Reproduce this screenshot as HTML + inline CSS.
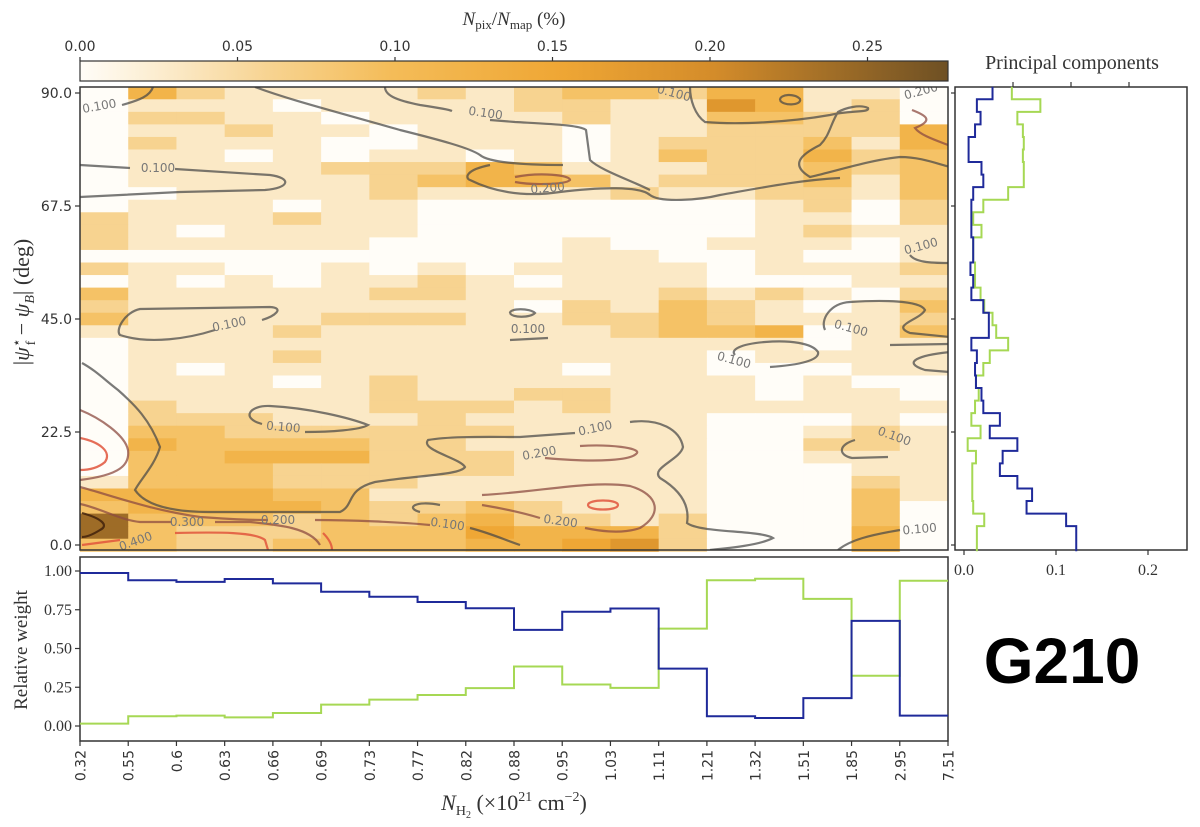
<!DOCTYPE html>
<html><head><meta charset="utf-8"><style>
html,body{margin:0;padding:0;background:#fff;}
svg{display:block;}
.tk{font-family:"DejaVu Sans","Liberation Sans",sans-serif;font-size:14px;fill:#333;}
.sf{font-family:"Liberation Serif",serif;fill:#333;}
.cl{font-family:"DejaVu Sans","Liberation Sans",sans-serif;font-size:12px;fill:#777;}
</style></head><body>
<svg id="chart" width="1200" height="827" viewBox="0 0 1200 827" xmlns="http://www.w3.org/2000/svg">
<defs>
<linearGradient id="cbar" x1="0" x2="1" y1="0" y2="0">
<stop offset="0" stop-color="#fffdf8"/><stop offset="0.11" stop-color="#fbe9c6"/><stop offset="0.22" stop-color="#f7d390"/><stop offset="0.36" stop-color="#f4bc58"/><stop offset="0.55" stop-color="#efa735"/><stop offset="0.73" stop-color="#d48c2a"/><stop offset="1" stop-color="#6e5024"/>
</linearGradient>
<clipPath id="mainclip"><rect x="80" y="87" width="868" height="463"/></clipPath>
</defs>
<g id="heat"></g>
<g id="contours" clip-path="url(#mainclip)"></g>
<rect x="80" y="87" width="868" height="463" fill="none" stroke="#333" stroke-width="1.5"/>
<g id="maintext"></g>
<rect x="80" y="61" width="868" height="20" fill="url(#cbar)" stroke="#333" stroke-width="1.2"/>
<g id="cbticks"></g>
<text x="514" y="25" text-anchor="middle" class="sf" font-size="19"><tspan font-style="italic">N</tspan><tspan font-size="13" dy="4">pix</tspan><tspan dy="-4">/</tspan><tspan font-style="italic">N</tspan><tspan font-size="13" dy="4">map</tspan><tspan dy="-4"> (%)</tspan></text>
<text x="1072" y="69" text-anchor="middle" class="sf" font-size="20">Principal components</text>
<rect x="955" y="87" width="232" height="463" fill="none" stroke="#333" stroke-width="1.5"/>
<g id="pc"></g>
<rect x="80" y="557" width="868" height="184" fill="none" stroke="#333" stroke-width="1.5"/>
<g id="wt"></g>
<text x="0" y="0" transform="translate(29,302) rotate(-90)" text-anchor="middle" class="sf" font-size="22">|<tspan font-style="italic">ψ</tspan><tspan font-size="14" dy="-8">⋆</tspan><tspan font-size="14" dx="-7" dy="14">f</tspan><tspan dy="-6"> − </tspan><tspan font-style="italic">ψ</tspan><tspan font-size="14" font-style="italic" dy="5">B</tspan><tspan dy="-5">| (deg)</tspan></text>
<text x="0" y="0" transform="translate(27,650) rotate(-90)" text-anchor="middle" class="sf" font-size="19">Relative weight</text>
<text x="514" y="810" text-anchor="middle" class="sf" font-size="22"><tspan font-style="italic">N</tspan><tspan font-size="14" dy="5">H</tspan><tspan font-size="10" dy="3">2</tspan><tspan dy="-8"> (×10</tspan><tspan font-size="14" dy="-9">21</tspan><tspan dy="9"> cm</tspan><tspan font-size="14" dy="-9">−2</tspan><tspan dy="9">)</tspan></text>
<text x="1062" y="683" text-anchor="middle" font-family="Liberation Sans, sans-serif" font-weight="bold" font-size="64" fill="#000">G210</text>
</svg>
<script>
// ---- data ----
const nEdges = ["0.32","0.55","0.6","0.63","0.66","0.69","0.73","0.77","0.82","0.88","0.95","1.03","1.11","1.21","1.32","1.51","1.85","2.95","7.51"];
const angleTicks = [0, 22.5, 45, 67.5, 90];
const cbTicks = [0, 0.05, 0.10, 0.15, 0.20, 0.25];
const levelStep = 0.030;
// heatmap rows from top (90 deg) to bottom (0 deg), 18 columns each, value = digit*levelStep
const heatRows = [
"042111121233244110","011101111221164120","022110111121133220","011211011101122224",
"021110011101222314","011010110101322423","011112224311122323","011111234431222313",
"001111211112112213","011101100000001202","211121100000001102","210111100000001211",
"211111000010011101","000000000011001001","211001010111101112","010101121011100011",
"311111221111212102","211111111021321013","311112221122321112","111121111112334013",
"011111111111111011","011121111111101111","010111111101100011","011101211111110100",
"011111211221110110","021111222121111111","022211121111100010","033222222111100121",
"043333221111100221","033444222111100111","033322222111100011","133322211111100021",
"444433111111100031","344443223211100030","833323234221200030","832223335444200040",
"332233334456200040"];
// principal components, top (90 deg) to bottom (0 deg)
const pcBlue = [0.031,0.014,0.018,0.012,0.005,0.005,0.019,0.021,0.010,0.008,0.008,0.008,0.010,0.010,0.007,0.010,0.008,0.021,0.027,0.027,0.008,0.014,0.012,0.013,0.019,0.021,0.039,0.028,0.058,0.042,0.039,0.058,0.074,0.068,0.111,0.122,0.122];
const pcGreen = [0.052,0.083,0.058,0.064,0.065,0.064,0.065,0.065,0.048,0.021,0.010,0.019,0.010,0.010,0.012,0.012,0.018,0.022,0.031,0.035,0.048,0.028,0.021,0.013,0.016,0.012,0.008,0.018,0.004,0.013,0.009,0.009,0.009,0.010,0.022,0.014,0.014];
const pcTicks = [0, 0.1, 0.2];
// relative weights per column-density bin
const wBlue = [0.987,0.94,0.93,0.948,0.92,0.866,0.834,0.80,0.76,0.62,0.737,0.758,0.37,0.063,0.052,0.18,0.678,0.067];
const wGreen = [0.015,0.063,0.067,0.056,0.084,0.138,0.17,0.20,0.244,0.384,0.268,0.246,0.628,0.94,0.95,0.82,0.324,0.937];
const wTicks = [0, 0.25, 0.5, 0.75, 1.0];

// ---- scales ----
const NS='http://www.w3.org/2000/svg';
const X0=80, X1=948, nb=nEdges.length-1, bw=(X1-X0)/nb;
const xb = i => X0 + i*bw;
const yAng = a => 545 - a*(452/90);
const rowH = 452/90*2.5;
const xPc = v => 964 + v*920;
const yW = v => 726 - v*155;
const xCb = v => 80 + v*3150;
function el(tag, attrs, parent){const e=document.createElementNS(NS,tag);for(const k in attrs)e.setAttribute(k,attrs[k]);parent.appendChild(e);return e;}
const stops=[[0,[255,253,248]],[0.03,[251,233,198]],[0.06,[247,211,144]],[0.10,[244,188,88]],[0.15,[239,167,53]],[0.20,[212,140,42]],[0.275,[110,80,36]]];
function cmap(v){for(let i=1;i<stops.length;i++){if(v<=stops[i][0]){const a=stops[i-1],b=stops[i],t=(v-a[0])/(b[0]-a[0]);return 'rgb('+a[1].map((c,j)=>Math.round(c+(b[1][j]-c)*t)).join(',')+')';}}return 'rgb(110,80,36)';}

// heatmap
const heat=document.getElementById('heat');
heatRows.forEach((row,ri)=>{
  const ang = 90 - ri*2.5;
  row.split('').forEach((d,ci)=>{
    const v=(+d)*levelStep;
    const r=el('rect',{x:xb(ci),y:yAng(ang)-rowH/2,width:bw+0.5,height:rowH+0.5,fill:cmap(v)},heat);
    
    
  });
});
// main y ticks
const mt=document.getElementById('maintext');
angleTicks.forEach(a=>{
  el('line',{x1:75,x2:80,y1:yAng(a),y2:yAng(a),stroke:'#333','stroke-width':1.2},mt);
  const t=el('text',{x:72,y:yAng(a)+5,'text-anchor':'end',class:'tk'},mt);
  t.textContent=a.toFixed(1);
  
  
});
// colorbar ticks
const cb=document.getElementById('cbticks');
cbTicks.forEach(v=>{
  el('line',{x1:xCb(v),x2:xCb(v),y1:57,y2:61,stroke:'#333','stroke-width':1.2},cb);
  const t=el('text',{x:xCb(v),y:51,'text-anchor':'middle',class:'tk'},cb);
  t.textContent=v.toFixed(2);
  
  
});
// contours (annotation overlay)
const contours=[
 ['M122,105 C140,100 150,96 153,87','g'],
 ['M80,165 L130,168 M175,169 L270,175 C292,178 290,188 265,190 L180,192 L80,197','g'],
 ['M255,87 C290,100 330,110 400,130 C440,140 470,148 480,155 C488,162 520,165 563,165','g'],
 ['M490,165 C465,170 465,178 470,180 C490,190 520,198 560,192 C600,187 640,186 650,195 C660,203 700,200 720,195 C760,188 800,180 840,178','g'],
 ['M385,87 C385,95 395,100 420,105 C440,108 450,110 452,111 M490,120 L515,122 C550,124 580,125 586,130 L590,160 C600,170 630,180 650,190','g'],
 ['M690,87 C690,100 695,115 705,122 C740,125 790,122 830,115 C850,110 870,113 868,108 C860,104 845,108 838,112 C830,125 830,135 820,145 C800,155 790,165 810,177 C840,170 870,160 900,157 C920,157 935,163 950,167','g'],
 ['M780,100 C780,94 795,93 800,99 C802,106 782,106 780,100','g'],
 ['M912,110 C925,115 935,120 915,128 C920,135 935,140 948,145','b'],
 ['M515,177 C540,172 570,175 570,180 C565,185 530,185 515,182','b'],
 ['M910,255 C915,262 930,263 948,263','g'],
 ['M262,320 C275,316 285,308 270,307 L140,309 C125,312 115,330 120,335 C150,345 190,338 215,330','g'],
 ['M510,313 C510,308 530,308 535,313 C530,318 512,318 510,313 M510,340 L548,338','g'],
 ['M770,367 C800,365 820,360 818,352 C812,343 790,340 765,342 C740,344 730,350 735,355','g'],
 ['M825,330 C820,320 830,303 850,302 C880,300 920,300 925,310 C920,320 890,325 910,333 L950,337 M890,345 L950,344 M950,352 C920,355 900,362 925,370 L950,372','g'],
 ['M262,424 C240,418 250,405 270,406 C310,408 350,418 368,425 C360,430 330,432 305,432','g'],
 ['M82,363 C95,370 105,380 118,390 C135,405 150,420 160,447 C155,465 140,480 135,490 C145,505 170,512 210,512 L340,512 C355,505 345,490 375,482 C420,475 460,475 465,467 C460,458 420,450 428,440 C450,436 490,437 520,437 L575,433 M630,422 C660,418 680,430 683,447 C680,460 650,468 660,478 C680,490 690,505 687,523 C700,533 760,530 773,538 C760,545 730,548 710,550','g'],
 ['M580,446 C610,444 640,448 637,453 C632,460 600,463 545,458','b'],
 ['M482,495 C540,492 590,480 630,486 C660,495 662,515 640,528 C620,535 595,530 585,528 M540,518 C520,512 500,508 482,505','b'],
 ['M588,505 C588,499 618,499 618,505 C618,511 588,511 588,505','r'],
 ['M420,512 C405,508 415,500 440,505 M470,528 C490,533 505,540 520,545','g'],
 ['M838,550 C850,540 870,535 900,530','g'],
 ['M855,440 C838,445 838,455 852,458 L888,457','g'],
 ['M80,410 C100,418 125,435 128,450 C130,465 120,475 80,480','b'],
 ['M80,438 C100,442 112,452 105,462 C98,468 88,470 80,470','r'],
 ['M80,487 C110,495 150,510 200,517 C240,520 260,520 268,520 M315,520 C350,520 400,522 430,525','b'],
 ['M80,504 C100,508 120,520 140,522 L172,522 M215,522 L250,522 C280,525 310,528 320,545','b'],
 ['M82,513 C100,518 110,525 100,530 C92,535 86,537 82,537','k'],
 ['M82,545 L120,540 M175,533 C220,532 255,532 265,540 L268,550 M323,533 C330,540 332,545 332,550','r']
];
const ccol={g:'rgba(70,70,70,0.72)',b:'rgba(140,75,65,0.75)',r:'rgba(225,85,60,0.85)',k:'rgba(60,30,10,0.8)'};
const cg=document.getElementById('contours');
contours.forEach(c=>{
  const p=el('path',{d:c[0],fill:'none',stroke:ccol[c[1]],'stroke-width':2.2},cg);
  
  
});
const clabels=[[100,110,'0.100',-10],[158,172,'0.100',0],[485,117,'0.100',8],[548,192,'0.200',-5],[673,97,'0.100',15],[922,95,'0.200',-15],[922,250,'0.100',-15],[230,328,'0.100',-12],[528,333,'0.100',0],[733,364,'0.100',15],[850,332,'0.100',15],[283,431,'0.100',5],[596,432,'0.100',-12],[540,457,'0.200',-10],[560,525,'0.200',8],[447,528,'0.100',8],[893,440,'0.100',20],[920,533,'0.100',-5],[278,524,'0.200',0],[187,526,'0.300',0],[137,545,'0.400',-20]];
clabels.forEach(l=>{
  const t=el('text',{x:l[0],y:l[1],class:'cl','text-anchor':'middle',transform:'rotate('+l[3]+' '+l[0]+' '+l[1]+')'},cg);
  t.textContent=l[2];
  
  
});

// principal components panel
const pc=document.getElementById('pc');
function pcPath(vals){
  let d='';
  vals.forEach((v,i)=>{
    const yt=yAng(90-i*2.5)-rowH/2, yb=yt+rowH;
    d+=(i===0?'M':'L')+xPc(v)+','+yt+' L'+xPc(v)+','+yb+' ';
  });
  return d;
}
const pg=el('path',{d:pcPath(pcGreen),fill:'none',stroke:'#a6d854','stroke-width':2},pc);


const pb=el('path',{d:pcPath(pcBlue),fill:'none',stroke:'#1f2a9a','stroke-width':2},pc);


pcTicks.forEach(v=>{
  el('line',{x1:xPc(v),x2:xPc(v),y1:550,y2:555,stroke:'#333','stroke-width':1.2},pc);
  const t=el('text',{x:xPc(v),y:575,'text-anchor':'middle',class:'sf','font-size':16},pc);
  t.textContent=v.toFixed(1);
  
  
});
[1013,1071,1129].forEach(x=>el('line',{x1:x,x2:x,y1:82,y2:87,stroke:'#333','stroke-width':1.2},pc));
angleTicks.forEach(a=>el('line',{x1:951,x2:955,y1:yAng(a),y2:yAng(a),stroke:'#333','stroke-width':1.2},pc));

// weight panel
const wt=document.getElementById('wt');
function wPath(vals){
  let d='';
  vals.forEach((v,i)=>{d+=(i===0?'M':'L')+xb(i)+','+yW(v)+' L'+xb(i+1)+','+yW(v)+' ';});
  return d;
}
const wg=el('path',{d:wPath(wGreen),fill:'none',stroke:'#a6d854','stroke-width':2},wt);


const wb=el('path',{d:wPath(wBlue),fill:'none',stroke:'#1f2a9a','stroke-width':2},wt);


wTicks.forEach(v=>{
  el('line',{x1:75,x2:80,y1:yW(v),y2:yW(v),stroke:'#333','stroke-width':1.2},wt);
  const t=el('text',{x:72,y:yW(v)+5,'text-anchor':'end',class:'sf','font-size':16},wt);
  t.textContent=v.toFixed(2);
  
  
});
nEdges.forEach((s,i)=>{
  el('line',{x1:xb(i),x2:xb(i),y1:741,y2:746,stroke:'#333','stroke-width':1.2},wt);
  const t=el('text',{x:0,y:0,'text-anchor':'end',class:'tk','font-size':15,transform:'translate('+(xb(i)+5.5)+',750) rotate(-90)'},wt);
  t.textContent=s;
  
  
});
</script>
</body></html>
